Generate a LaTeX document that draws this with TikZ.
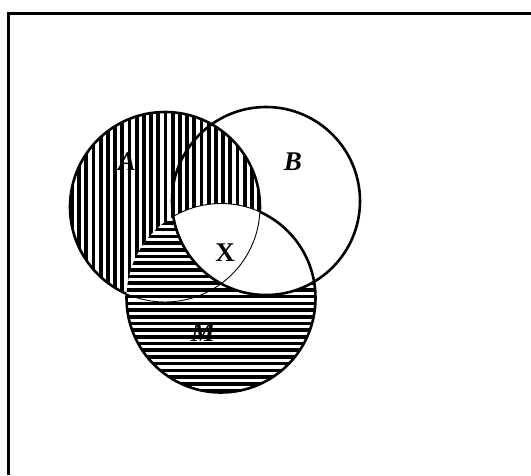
\documentclass[tikz,border=0pt]{standalone}
\usepackage{fontspec}
\setmainfont{Liberation Serif}
\begin{document}
\begin{tikzpicture}[x=1pt,y=-1pt,
  heavy/.style={line width=2.6pt},
  light/.style={line width=0.9pt},
  lab/.style={font=\fontsize{27}{27}\selectfont\bfseries\itshape, inner sep=0pt},
  labup/.style={font=\fontsize{27}{27}\selectfont\bfseries, inner sep=0pt}]
\useasboundingbox (0,0) rectangle (531,475);
\coordinate (cA) at (165,207);
\coordinate (cB) at (266,201);
\coordinate (cM) at (221,298);
% frame
\draw[line width=2.2pt] (531,13.5) -- (8.5,13.5) -- (8.5,475);
% vertical hatching: A minus M
\begin{scope}
  \clip (cA) circle (95pt);
  \begin{scope}[even odd rule]
    \clip (0,0) rectangle (531,475) (cM) circle (94.5pt);
    \foreach \i in {0,...,27} \fill (70+7.2*\i,100) rectangle ++(3.8,220);
  \end{scope}
\end{scope}
% horizontal hatching: M minus B
\begin{scope}
  \clip (cM) circle (94.5pt);
  \begin{scope}[even odd rule]
    \clip (0,0) rectangle (531,475) (cB) circle (94pt);
    \foreach \i in {0,...,29} \fill (120,201+6.7*\i) rectangle ++(210,3.6);
  \end{scope}
\end{scope}
% outlines
\draw[heavy] (cB) circle (94pt);
\begin{scope}[even odd rule]
  \clip (0,0) rectangle (531,475) (cM) circle (94.5pt);
  \draw[heavy] (cA) circle (95pt);
\end{scope}
\begin{scope}
  \clip (cM) circle (94.5pt);
  \draw[light] (cA) circle (95pt);
\end{scope}
\begin{scope}[even odd rule]
  \clip (0,0) rectangle (531,475) (cA) circle (95pt);
  \draw[heavy] (cM) circle (94.5pt);
\end{scope}
\begin{scope}
  \clip (cA) circle (95pt);
  \clip (cB) circle (94pt);
  \draw[light] (cM) circle (94.5pt);
\end{scope}
% labels
\node[lab] (la) at (127,162) {A};
\node[lab] (lb) at (293,162) {B};
\node[labup] (lx) at (225,253) {X};
\node[lab] (lm) at (203,333) {M};
\end{tikzpicture}
\end{document}
